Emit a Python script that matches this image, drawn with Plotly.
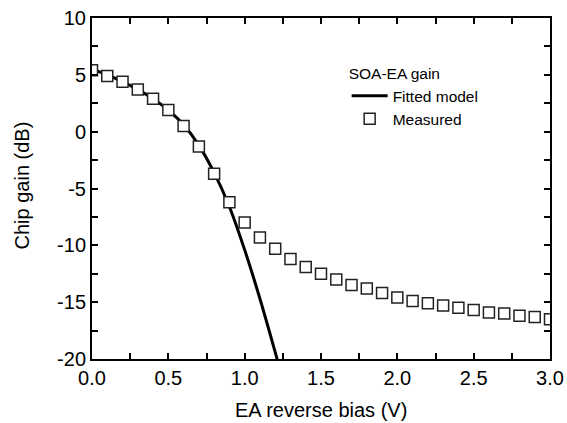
import plotly.graph_objects as go

# Measured data
bias_meas = [0.0, 0.1, 0.2, 0.3, 0.4, 0.5, 0.6, 0.7, 0.8, 0.9, 1.0, 1.1, 1.2, 1.3, 1.4, 1.5,
             1.6, 1.7, 1.8, 1.9, 2.0, 2.1, 2.2, 2.3, 2.4, 2.5, 2.6, 2.7, 2.8, 2.9, 3.0]
gain_meas = [5.4, 4.9, 4.4, 3.7, 2.9, 1.9, 0.5, -1.3, -3.7, -6.2, -8.0, -9.3, -10.3, -11.2, -11.9,
             -12.5, -13.0, -13.5, -13.8, -14.2, -14.6, -14.9, -15.1, -15.3, -15.5, -15.7, -15.9,
             -16.0, -16.2, -16.3, -16.5]

# Fitted model
bias_fit = [0.0, 0.1, 0.2, 0.3, 0.4, 0.5, 0.6, 0.7, 0.8, 0.9, 1.0, 1.1, 1.2, 1.25]
gain_fit = [5.5, 5.0, 4.4, 3.7, 2.9, 1.9, 0.6, -1.2, -3.6, -6.6, -10.4, -14.7, -19.4, -21.8]

x_ticks = [0.0, 0.5, 1.0, 1.5, 2.0, 2.5, 3.0]
x_tick_labels = ["0.0", "0.5", "1.0", "1.5", "2.0", "2.5", "3.0"]
y_ticks = [-20, -15, -10, -5, 0, 5, 10]
y_tick_labels = ["-20", "-15", "-10", "-5", "0", "5", "10"]

FONT = "Liberation Sans, Arial, sans-serif"

fig = go.Figure()
fig.add_trace(go.Scatter(
    x=bias_fit, y=gain_fit, mode="lines", name="Fitted model",
    line=dict(color="black", width=3, shape="spline"),
))
fig.add_trace(go.Scatter(
    x=bias_meas, y=gain_meas, mode="markers", name="Measured",
    marker=dict(symbol="square", size=11, color="white",
                line=dict(color="#222222", width=1.5)),
))

axis_common = dict(
    showline=True, linecolor="black", linewidth=2, mirror="allticks",
    ticks="inside", ticklen=6, tickwidth=1.5, tickcolor="black",
    showgrid=False, zeroline=False, automargin=False,
    tickfont=dict(family=FONT, size=20, color="black"),
)

fig.update_xaxes(
    range=[0, 3.0], tickvals=x_ticks, ticktext=x_tick_labels,
    minor=dict(dtick=0.25, tick0=0, ticks="inside", ticklen=6, tickwidth=1.5, tickcolor="black"),
    **axis_common,
)
fig.update_yaxes(
    range=[-20, 10], tickvals=y_ticks, ticktext=y_tick_labels,
    minor=dict(dtick=2.5, tick0=0, ticks="inside", ticklen=6, tickwidth=1.5, tickcolor="black"),
    **axis_common,
)

fig.add_annotation(
    text="EA reverse bias (V)", xref="paper", yref="paper", x=0.5, y=-0.15,
    xanchor="center", yanchor="middle", showarrow=False,
    font=dict(family=FONT, size=20, color="black"),
)
fig.add_annotation(
    text="Chip gain (dB)", xref="paper", yref="paper", x=-0.152, y=0.51,
    xanchor="center", yanchor="middle", showarrow=False, textangle=-90,
    font=dict(family=FONT, size=20, color="black"),
)

fig.update_layout(
    width=567, height=423,
    margin=dict(l=92, r=17, t=18, b=64),
    paper_bgcolor="white", plot_bgcolor="white",
    showlegend=True,
    legend=dict(
        title=dict(text="SOA-EA gain", font=dict(family=FONT, size=15.5, color="black")),
        font=dict(family=FONT, size=15.5, color="black"),
        x=0.556, y=0.88, xanchor="left", yanchor="top",
        bgcolor="rgba(0,0,0,0)", tracegroupgap=0, itemwidth=36,
    ),
)

fig.write_html("out.html")
